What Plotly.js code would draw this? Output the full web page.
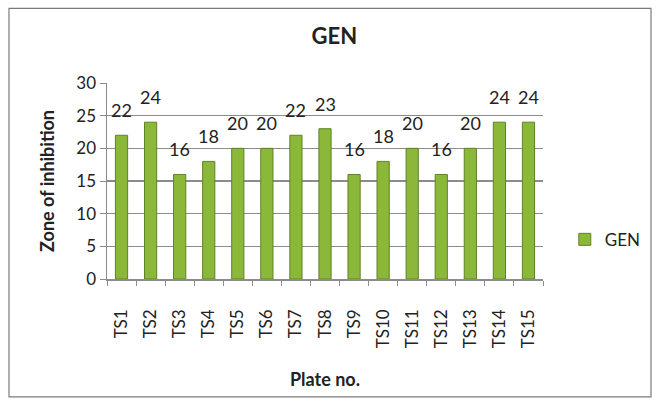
<!DOCTYPE html>
<html>
<head>
<meta charset="utf-8">
<script src="https://cdn.plot.ly/plotly-3.0.1.min.js"></script>
<style>html,body{margin:0;padding:0;background:#fff;}#chart{width:662px;height:405px;}</style>
</head>
<body>
<div id="chart"></div>
<script>
const categories = ["TS1","TS2","TS3","TS4","TS5","TS6","TS7","TS8","TS9","TS10","TS11","TS12","TS13","TS14","TS15"];
const genValues = [22,24,16,18,20,20,22,23,16,18,20,16,20,24,24];
const yTicks = [0,5,10,15,20,25,30];
const seriesName = "GEN";

const FONT = "Lato, 'Open Sans', sans-serif";
const TXT = "#222222";

const trace = {
  type: "bar",
  x: categories,
  y: genValues,
  name: seriesName,
  marker: { color: "#8cb83a", line: { color: "#5f8225", width: 1 } },
  hoverinfo: "none"
};

const labelAnnotations = categories.map((c, i) => ({
  x: c, y: genValues[i], xref: "x", yref: "y",
  text: String(genValues[i]), showarrow: false,
  yanchor: "bottom", yshift: 12,
  font: { family: FONT, size: 18, color: TXT }
}));

const layout = {
  width: 662, height: 405,
  margin: { l: 107, r: 119, t: 83, b: 126 },
  paper_bgcolor: "#ffffff", plot_bgcolor: "#ffffff",
  title: { text: "<b>GEN</b>", x: 0.505, xanchor: "center", y: 0.91, yanchor: "middle",
           font: { family: FONT, size: 22, color: TXT } },
  bargap: 0.58,
  showlegend: true,
  legend: { x: 1.05, xanchor: "left", y: 0.2, yanchor: "middle",
            font: { family: FONT, size: 17, color: TXT }, bgcolor: "rgba(0,0,0,0)" },
  xaxis: {
    type: "category", tickangle: -90, tickson: "boundaries",
    ticks: "outside", ticklen: 5, tickcolor: "#8c8c8c",
    showline: true, linecolor: "#8c8c8c", linewidth: 1.5,
    showgrid: false, ticklabelstandoff: 22,
    tickfont: { family: FONT, size: 17, color: TXT },
    title: { text: "<b>Plate no.</b>", font: { family: FONT, size: 18, color: TXT }, standoff: 26 },
    automargin: true, fixedrange: true
  },
  yaxis: {
    range: [0, 30], tickvals: yTicks, ticktext: yTicks.map(String),
    ticks: "outside", ticklen: 6, tickcolor: "#8c8c8c",
    showline: true, linecolor: "#8c8c8c", linewidth: 1.5,
    showgrid: true, gridcolor: "#8c8c8c", gridwidth: 1.5,
    zeroline: false,
    tickfont: { family: FONT, size: 17, color: TXT },
    title: { text: "<b>Zone of inhibition</b>", font: { family: FONT, size: 18, color: TXT }, standoff: 17 },
    automargin: true, fixedrange: true
  },
  annotations: labelAnnotations,
  shapes: [{
    type: "rect", xref: "paper", yref: "paper",
    x0: -0.2248, x1: 1.2477, y0: -0.601, y1: 1.3805,
    line: { color: "#7a7a7a", width: 1.2 }, fillcolor: "rgba(0,0,0,0)"
  }]
};

Plotly.newPlot("chart", [trace], layout, { staticPlot: true, displayModeBar: false });
</script>
</body>
</html>
